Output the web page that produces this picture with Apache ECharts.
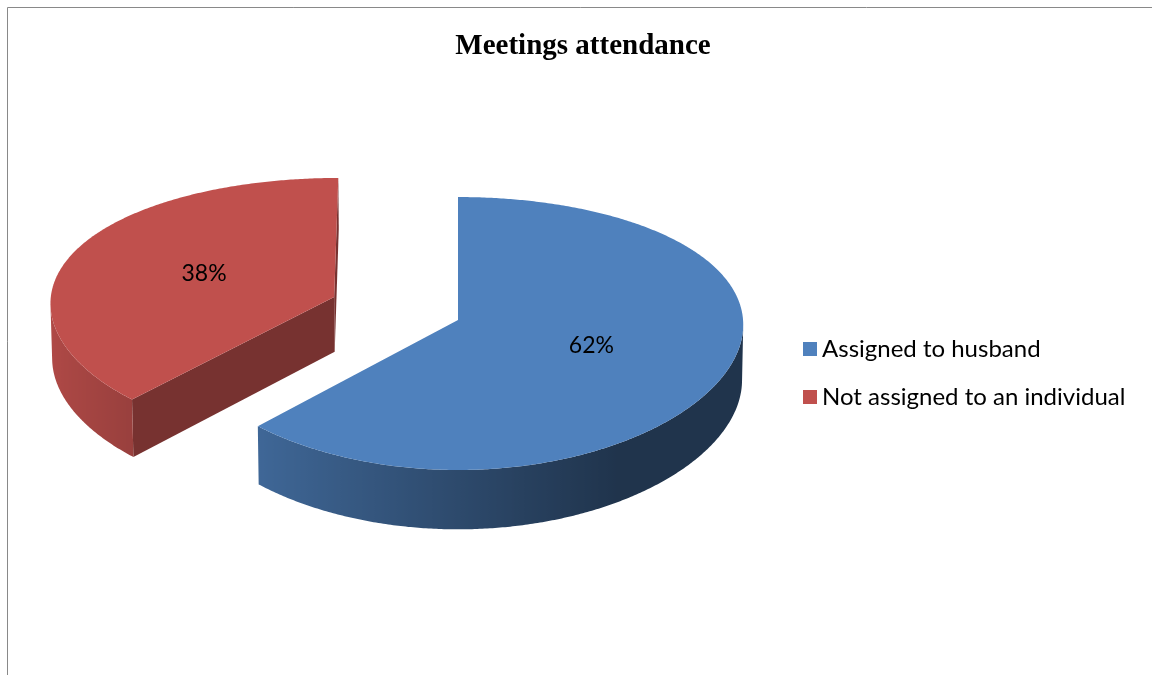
<!DOCTYPE html>
<html>
<head>
<meta charset="utf-8">
<script src="https://cdn.jsdelivr.net/npm/echarts@6/dist/echarts.min.js"></script>
<style>
  html, body { margin: 0; padding: 0; background: #ffffff; }
  #chart { width: 1152px; height: 675px; }
</style>
</head>
<body>
<div id="chart"></div>
<script>
// ---- data ----
const categories = ['Assigned to husband', 'Not assigned to an individual'];
const values = [62, 38];
const chartTitle = 'Meetings attendance';

// ---- view settings ----
// The pie is a unit-radius disc in 3-D space (X right, Y up, Z away),
// seen from above and in front through a perspective camera.
// xPersp softens the perspective in the horizontal direction.
const VIEW = { cx: 458, cy: 320, focal: 2537, dist: 8.9, tilt: 28.3, thickness: 0.223, xPersp: 0.35 };
// radial pull-out of each slice, in disc radii
const EXPLODE = [0, 0.47];
const PALETTE = ['#4F81BD', '#C0504D'];
const FONT = 'Lato';

const TAU = Math.PI * 2;
const total = values.reduce((a, b) => a + b, 0);
const tiltRad = VIEW.tilt * Math.PI / 180;
const cosT = Math.cos(tiltRad), sinT = Math.sin(tiltRad);

function project(X, Y, Z) {
  const yc = Y * cosT + Z * sinT;
  const zc = VIEW.dist + Z * cosT - Y * sinT;
  const zx = VIEW.dist + VIEW.xPersp * (zc - VIEW.dist);
  return [VIEW.cx + VIEW.focal * X / zx, VIEW.cy - VIEW.focal * yc / zc];
}

// angles run clockwise from the back of the disc (12 o'clock)
function sliceGeom(i) {
  let acc = 0;
  for (let k = 0; k < i; k++) acc += values[k];
  const a0 = acc / total * TAU;
  const a1 = (acc + values[i]) / total * TAU;
  const am = (a0 + a1) / 2;
  const e = EXPLODE[i] || 0;
  return { a0, a1, am, ox: e * Math.sin(am), oz: e * Math.cos(am) };
}

function shade(hex, f) {
  const n = parseInt(hex.slice(1), 16);
  const r = (n >> 16) & 255, g = (n >> 8) & 255, b = n & 255;
  return 'rgb(' + Math.round(r * f) + ',' + Math.round(g * f) + ',' + Math.round(b * f) + ')';
}

// light comes from the left, slightly behind
function wallFactor(t) {
  return Math.max(0.4, Math.min(1, 0.6 + 0.32 * Math.cos(t - 275 * Math.PI / 180)));
}

// signed screen area; negative means the face is turned toward the viewer
function area(pts) {
  let s = 0;
  for (let k = 0; k < pts.length; k++) {
    const p = pts[k], q = pts[(k + 1) % pts.length];
    s += p[0] * q[1] - q[0] * p[1];
  }
  return s / 2;
}

function renderSlice(i) {
  return function (params, api) {
    const color = api.visual('color');
    const { a0, a1, am, ox, oz } = sliceGeom(i);
    const H = -VIEW.thickness;
    const rim = (t, Y) => project(ox + Math.sin(t), Y, oz + Math.cos(t));
    const cTop = project(ox, 0, oz);
    const cBot = project(ox, H, oz);
    const children = [];

    // flat cut faces along the two radii
    const cuts = [
      [cTop, rim(a0, 0), rim(a0, H), cBot],
      [cTop, cBot, rim(a1, H), rim(a1, 0)]
    ];
    cuts.forEach(pts => {
      if (area(pts) < -0.5) {
        children.push({ type: 'polygon', z2: 1, shape: { points: pts }, style: { fill: shade(color, 0.62) } });
      }
    });

    // curved outer wall, only the part turned toward the viewer
    const steps = Math.max(8, Math.ceil((a1 - a0) / (Math.PI / 360)));
    const ts = [];
    for (let k = 0; k <= steps; k++) ts.push(a0 + (a1 - a0) * k / steps);
    let run = [];
    const flush = () => {
      if (run.length > 1) {
        const topPts = run.map(t => rim(t, 0));
        const botPts = run.map(t => rim(t, H)).reverse();
        const pts = topPts.concat(botPts);
        const xs = pts.map(p => p[0]);
        const minX = Math.min.apply(null, xs), maxX = Math.max.apply(null, xs);
        const span = Math.max(1, maxX - minX);
        const stops = run.map(t => ({
          offset: Math.max(0, Math.min(1, (rim(t, 0)[0] - minX) / span)),
          color: shade(color, wallFactor(t))
        })).sort((a, b) => a.offset - b.offset);
        children.push({
          type: 'polygon', z2: 1,
          shape: { points: pts },
          style: { fill: new echarts.graphic.LinearGradient(minX, 0, maxX, 0, stops, true) }
        });
      }
      run = [];
    };
    for (let k = 0; k < steps; k++) {
      const t1 = ts[k], t2 = ts[k + 1];
      const quad = [rim(t1, 0), rim(t2, 0), rim(t2, H), rim(t1, H)];
      if (area(quad) < 0) {
        if (!run.length) run.push(t1);
        run.push(t2);
      } else {
        flush();
      }
    }
    flush();

    // top face
    const top = [cTop].concat(ts.map(t => rim(t, 0)));
    children.push({ type: 'polygon', z2: 2, shape: { points: top }, style: { fill: color } });

    // percentage label, half way out along the slice's middle
    const lp = project(ox + 0.5 * Math.sin(am), 0, oz + 0.5 * Math.cos(am));
    children.push({
      type: 'text', z2: 3,
      style: {
        text: Math.round(values[i] / total * 100) + '%',
        x: lp[0], y: lp[1], align: 'center', verticalAlign: 'middle',
        fill: '#000000', fontFamily: FONT, fontSize: 23
      }
    });
    return { type: 'group', children };
  };
}

// slices nearer the viewer are drawn on top
const depthRank = categories.map((_, i) => i)
  .sort((p, q) => Math.cos(sliceGeom(q).am) - Math.cos(sliceGeom(p).am));

const chart = echarts.init(document.getElementById('chart'), null, { renderer: 'canvas' });
chart.setOption({
  animation: false,
  color: PALETTE,
  title: {
    text: chartTitle,
    left: 578, top: 27, textAlign: 'center',
    textStyle: { fontFamily: 'Liberation Serif', fontWeight: 'bold', fontSize: 29, color: '#000000' }
  },
  legend: {
    orient: 'vertical', left: 798, top: 331,
    icon: 'rect', itemWidth: 14, itemHeight: 14, itemGap: 22,
    selectedMode: false,
    textStyle: { fontFamily: FONT, fontSize: 24, lineHeight: 26, color: '#000000' },
    data: categories
  },
  graphic: [{
    type: 'rect', silent: true, z: -1,
    shape: { x: 7.5, y: 7.5, width: 1300, height: 900 },
    style: { fill: 'none', stroke: '#898989', lineWidth: 1 }
  }],
  series: categories.map((name, i) => ({
    type: 'custom',
    name: name,
    coordinateSystem: 'none',
    z: 2 + depthRank.indexOf(i),
    silent: true,
    data: [values[i]],
    renderItem: renderSlice(i)
  }))
});
</script>
</body>
</html>
